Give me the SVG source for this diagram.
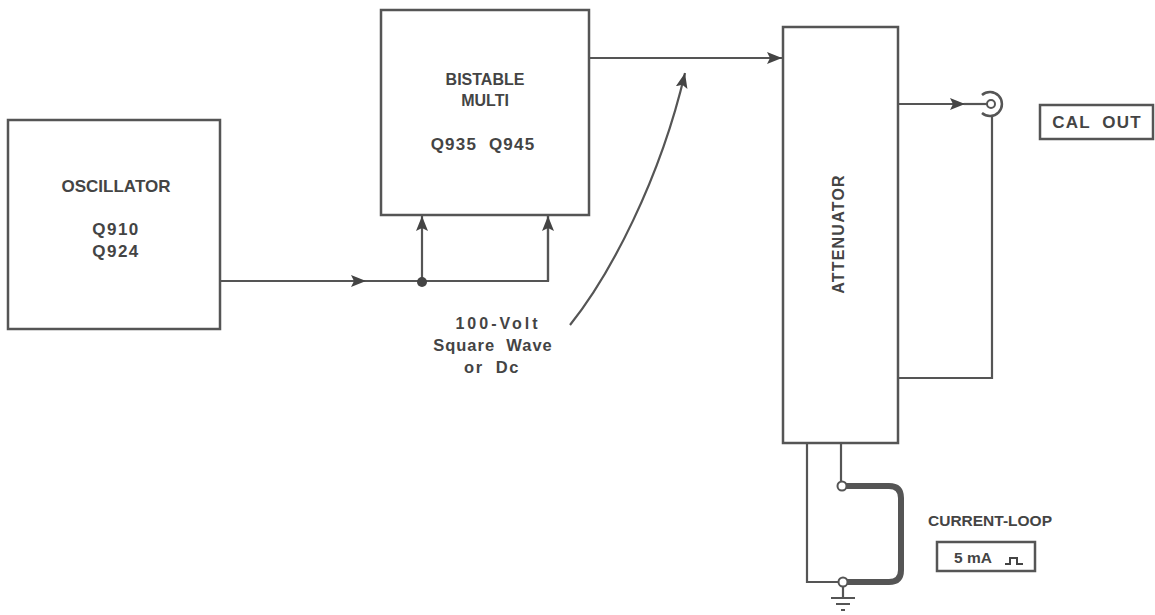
<svg xmlns="http://www.w3.org/2000/svg" width="1155" height="615" viewBox="0 0 1155 615">
<style>
.box{fill:none;stroke:#555;stroke-width:2.5}
.ln{fill:none;stroke:#555;stroke-width:2.2}
.t{font-family:"Liberation Sans",Arial,sans-serif;font-weight:bold;fill:#444;text-anchor:middle}
</style>
<defs>
<marker id="ah" viewBox="0 0 15 12" refX="15" refY="6" markerWidth="15" markerHeight="12" markerUnits="userSpaceOnUse" orient="auto">
<path d="M0,0 L15,6 L0,12 L3,6 Z" fill="#444"/>
</marker>
</defs>
<rect width="1155" height="615" fill="#fff"/>
<g id="oscillator">
<rect class="box" x="8" y="120" width="212" height="209"/>
<text class="t" x="116" y="192" font-size="17">OSCILLATOR</text>
<text class="t" x="116" y="235" font-size="17" letter-spacing="1.5">Q910</text>
<text class="t" x="116" y="257" font-size="17" letter-spacing="1.5">Q924</text>
</g>
<g id="bistable">
<rect class="box" x="381" y="10" width="208" height="205"/>
<text class="t" x="485" y="85" font-size="16">BISTABLE</text>
<text class="t" x="485" y="106" font-size="16">MULTI</text>
<text class="t" x="483" y="150" font-size="17" letter-spacing="1.2" xml:space="preserve">Q935  Q945</text>
</g>
<g id="attenuator">
<rect class="box" x="783" y="27" width="115" height="416"/>
<text class="t" x="0" y="0" font-size="16" letter-spacing="1.2" transform="translate(844,234) rotate(-90)">ATTENUATOR</text>
</g>
<g id="cal-out">
<rect class="box" x="1040" y="105" width="113" height="34" stroke-width="2"/>
<text class="t" x="1097" y="128" font-size="17" letter-spacing="1.2" xml:space="preserve">CAL  OUT</text>
</g>
<g id="connector-jack">
<circle cx="991" cy="104" r="4" fill="#fff" stroke="#555" stroke-width="2"/>
<path d="M982,95 A12,12 0 1 1 982,113" fill="none" stroke="#555" stroke-width="2.5"/>
</g>
<g id="current-loop">
<text class="t" x="990" y="526" font-size="15.5">CURRENT-LOOP</text>
<rect class="box" x="937" y="542" width="98" height="29" stroke-width="2"/>
<text class="t" x="973" y="563" font-size="15.5">5 mA</text>
<path d="M1005,564 L1010,564 L1010,558 L1017,558 L1017,564 L1023,564" fill="none" stroke="#444" stroke-width="2"/>
</g>
<g id="signal-label">
<text class="t" x="498" y="329" font-size="16" letter-spacing="3">100-Volt</text>
<text class="t" x="493" y="351" font-size="16.5" letter-spacing="1" xml:space="preserve">Square  Wave</text>
<text class="t" x="492" y="373" font-size="16.5" letter-spacing="1.5" xml:space="preserve">or  Dc</text>
</g>
<g id="connectors">
<path class="ln" d="M220,281 H420" />
<path class="ln" d="M220,281 H366" marker-end="url(#ah)"/>
<path class="ln" d="M420,281 H548 V216"/>
<path class="ln" d="M548,281 V216" marker-end="url(#ah)"/>
<path class="ln" d="M422,281 V216" marker-end="url(#ah)"/>
<circle cx="422" cy="282" r="5" fill="#444"/>
<path class="ln" d="M589,58 H782" marker-end="url(#ah)"/>
<path class="ln" d="M570,325 C610,275 660,180 685,73" marker-end="url(#ah)"/>
<path class="ln" d="M898,104 H965" marker-end="url(#ah)"/>
<path class="ln" d="M964,104 H987"/>
<path class="ln" d="M992,116 V378 H898"/>
<path class="ln" d="M807,443 V582 H839"/>
<path class="ln" d="M841,443 V482"/>
<path d="M846,486 H889 Q901,486 901,498 V570 Q901,582 889,582 H847" fill="none" stroke="#555" stroke-width="6"/>
<circle cx="842" cy="486" r="4.5" fill="#fff" stroke="#555" stroke-width="2"/>
<circle cx="843" cy="582" r="4.5" fill="#fff" stroke="#555" stroke-width="2"/>
<path class="ln" d="M843,587 V598 M831,598 H855 M836,604 H850 M841,610 H845"/>
</g>
</svg>
